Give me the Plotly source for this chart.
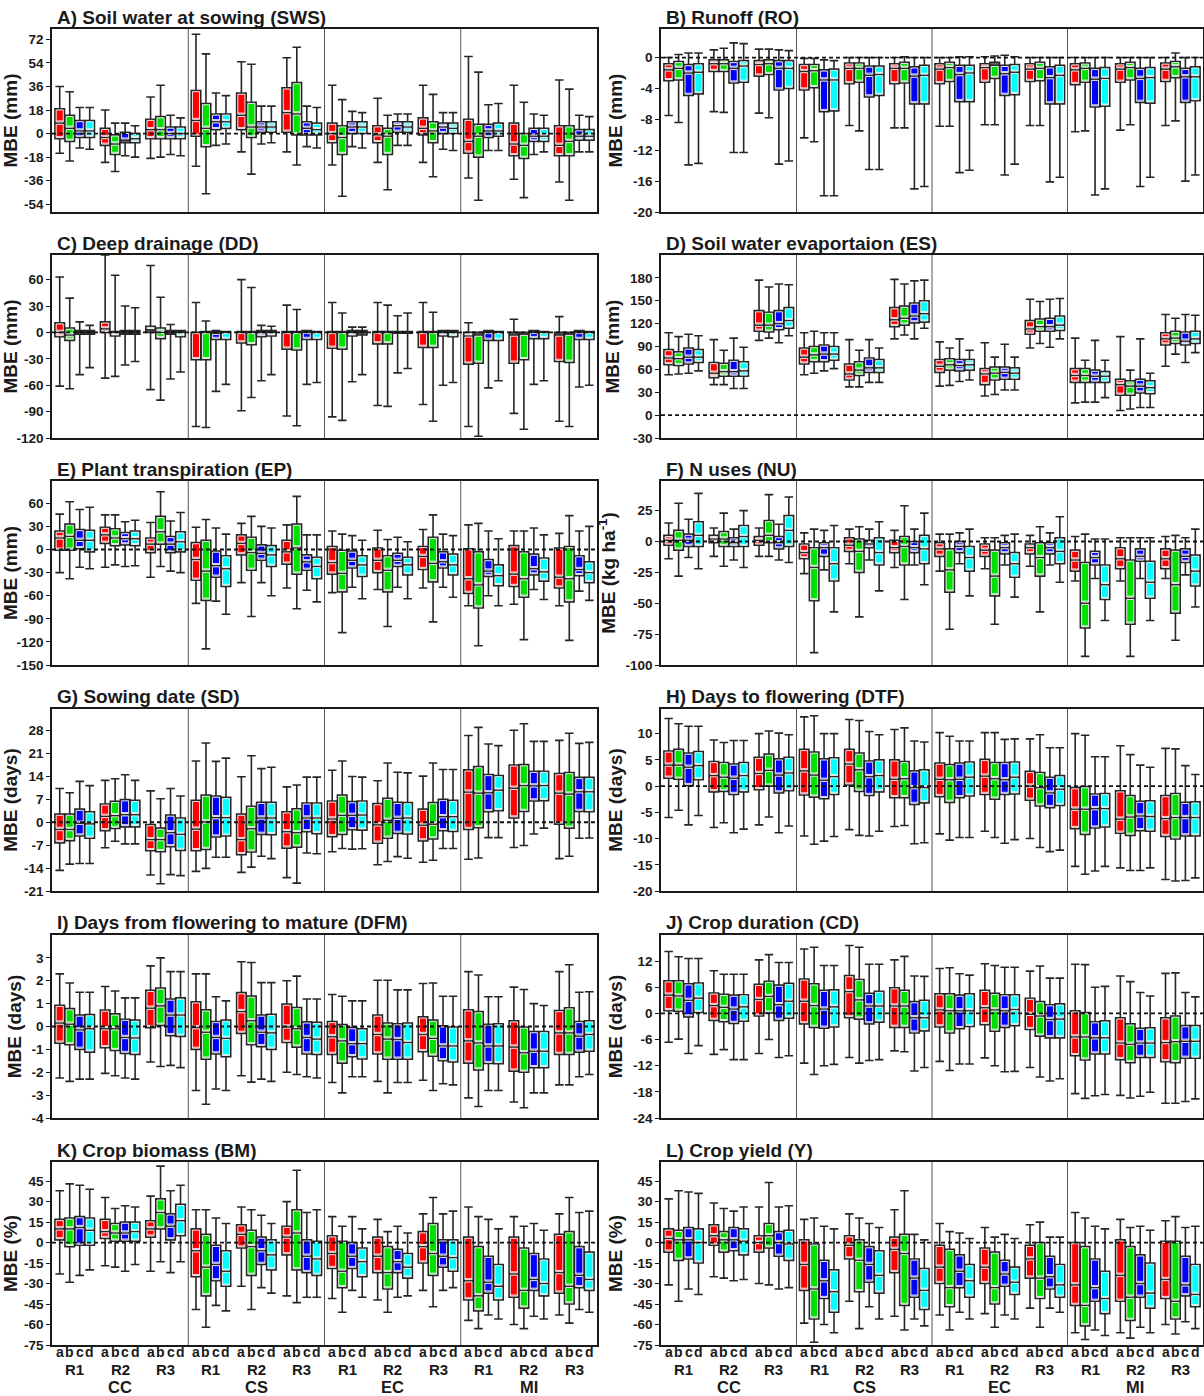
import plotly.graph_objects as go

# ---------------------------------------------------------------- categories
REGIONS = ["CC", "CS", "EC", "MI"]
REPLICATES = ["R1", "R2", "R3"]
VARIANTS = ["a", "b", "c", "d"]
VARIANT_COLORS = ["#ff0000", "#00e000", "#0000ff", "#00ffff"]

# ---------------------------------------------------------------- box statistics
# Each row: lower whisker, Q1, median, Q3, upper whisker.
# Row order: region (CC, CS, EC, MI) > replicate (R1, R2, R3) > variant (a, b, c, d).
SWS = [
    [-15, -4, 8, 19, 36], [-21, -6, 4, 14, 32], [-11, -3, 2, 10, 20], [-12, -3, 2, 10, 20],
    [-22, -9, -3, 4, 18], [-29, -16, -8, -1, 8], [-17, -7, -5, 1, 8], [-18, -7, -4, 0, 6],
    [-19, -4, 3, 11, 28], [-18, -4, 3, 13, 37], [-16, -4, 0, 5, 14], [-17, -4, 0, 5, 12],
    [-25, -2, 10, 33, 76], [-46, -10, 4, 23, 61], [-9, 3, 9, 15, 31], [-8, 4, 9, 15, 29],
    [-14, 3, 14, 31, 55], [-31, -3, 5, 24, 53], [-8, 1, 5, 9, 21], [-7, 1, 5, 9, 21],
    [-14, 1, 16, 35, 58], [-24, -1, 15, 39, 66], [-10, -1, 4, 9, 21], [-11, -1, 3, 8, 20],
    [-24, -7, 0, 8, 37], [-48, -16, -3, 6, 26], [-10, 0, 5, 9, 17], [-11, 0, 5, 9, 16],
    [-22, -7, -1, 6, 27], [-43, -16, -2, 4, 14], [-9, 1, 6, 9, 15], [-9, 1, 5, 9, 15],
    [-22, -1, 4, 12, 37], [-33, -7, 2, 9, 30], [-12, 0, 5, 8, 16], [-13, 0, 4, 8, 16],
    [-34, -15, -6, 11, 59], [-51, -18, -2, 7, 47], [-13, -3, 2, 7, 22], [-13, -2, 2, 8, 23],
    [-35, -17, -8, 8, 37], [-49, -19, -9, 0, 24], [-16, -6, -2, 4, 15], [-14, -6, -2, 4, 14],
    [-37, -17, -9, 6, 41], [-51, -17, -6, 6, 34], [-14, -5, -2, 3, 14], [-14, -5, -2, 3, 13],
]
RO = [
    [-7.5, -3.0, -1.6, -0.8, 0.0], [-8.4, -2.9, -1.4, -0.5, 0.4], [-13.9, -4.9, -2.0, -0.9, 0.6], [-13.7, -4.7, -1.9, -0.8, 0.6],
    [-7.0, -1.8, -0.8, -0.3, 1.0], [-7.1, -1.8, -0.8, -0.3, 1.2], [-12.3, -3.3, -1.4, -0.5, 1.9], [-12.3, -3.2, -1.1, -0.4, 1.8],
    [-7.2, -2.4, -0.9, -0.4, 1.1], [-7.8, -2.2, -0.8, -0.3, 1.1], [-13.8, -4.2, -1.4, -0.4, 1.0], [-13.4, -4.0, -1.4, -0.4, 0.9],
    [-10.4, -4.2, -1.8, -0.9, -0.1], [-10.9, -3.9, -1.7, -0.9, -0.1], [-17.9, -7.0, -2.9, -1.6, -0.3], [-17.9, -6.9, -2.9, -1.5, -0.4],
    [-8.8, -3.4, -1.4, -0.7, 0.0], [-9.5, -3.2, -1.4, -0.7, 0.0], [-14.5, -5.1, -2.3, -1.1, 0.0], [-14.5, -4.9, -2.2, -1.1, 0.0],
    [-9.1, -3.4, -1.4, -0.8, 0.0], [-9.1, -3.3, -1.4, -0.6, 0.1], [-17.0, -6.0, -2.4, -1.2, 0.0], [-16.7, -6.0, -2.3, -1.0, 0.0],
    [-8.9, -3.4, -1.5, -0.8, 0.0], [-8.9, -3.1, -1.3, -0.6, 0.0], [-14.9, -5.7, -2.2, -1.0, 0.1], [-14.6, -5.7, -2.0, -1.0, 0.1],
    [-8.7, -3.2, -1.3, -0.8, 0.1], [-8.7, -2.7, -1.0, -0.6, 0.2], [-15.2, -4.9, -2.1, -1.0, 0.3], [-13.8, -4.8, -1.9, -0.9, 0.1],
    [-8.8, -3.1, -1.5, -0.8, 0.0], [-8.8, -3.0, -1.4, -0.6, 0.0], [-16.1, -6.0, -2.6, -1.2, 0.0], [-15.5, -6.0, -2.3, -1.0, 0.0],
    [-9.6, -3.5, -1.6, -0.8, 0.0], [-9.5, -3.2, -1.4, -0.7, 0.0], [-17.8, -6.4, -2.8, -1.4, 0.0], [-17.0, -6.3, -2.7, -1.3, 0.0],
    [-9.4, -3.2, -1.5, -0.8, 0.0], [-8.7, -2.9, -1.3, -0.6, 0.0], [-16.7, -5.8, -2.7, -1.4, 0.0], [-15.5, -5.9, -2.6, -1.3, 0.0],
    [-8.8, -3.1, -1.5, -0.7, 0.0], [-8.2, -2.6, -1.2, -0.5, 0.6], [-16.0, -5.8, -2.5, -1.4, 0.0], [-15.2, -5.6, -2.5, -1.2, 0.0],
]
DD = [
    [-61, -5, 0, 11, 63], [-64, -9, -3, 5, 39], [-48, -2, 0, 2, 12], [-40, -2, 0, 2, 8],
    [-52, 0, 4, 12, 88], [-50, -4, 0, 1, 65], [-37, -2, 0, 2, 30], [-33, -2, 0, 2, 28],
    [-65, 0, 3, 7, 76], [-77, -7, 0, 5, 40], [-53, -2, 0, 2, 9], [-45, -5, 0, 2, 2],
    [-107, -31, 0, 0, 34], [-108, -31, 0, 1, 13], [-67, -8, -1, 1, 2], [-59, -8, 0, 1, 0],
    [-89, -12, 0, 1, 60], [-74, -14, 0, 1, 51], [-55, -5, 0, 2, 8], [-48, -4, 0, 2, 7],
    [-95, -19, 0, 1, 31], [-106, -20, 0, 1, 26], [-59, -8, 0, 2, 0], [-57, -8, 0, 1, 0],
    [-96, -18, 0, 1, 34], [-100, -19, 0, 1, 22], [-56, -4, 0, 2, 6], [-48, -3, 0, 2, 6],
    [-83, -13, 0, 1, 34], [-84, -13, 0, 1, 31], [-46, -1, 0, 1, 19], [-41, -1, 0, 1, 22],
    [-82, -17, 0, 1, 34], [-101, -17, 0, 1, 23], [-60, -4, 0, 2, 0], [-57, -5, 0, 2, 0],
    [-107, -36, -4, 0, 11], [-118, -35, -3, 0, 0], [-63, -9, 0, 2, 0], [-55, -9, 0, 1, 0],
    [-92, -35, -3, 0, 15], [-110, -31, -2, 0, 0], [-59, -7, 0, 2, 0], [-55, -7, 0, 1, 0],
    [-101, -33, -3, 0, 18], [-107, -34, -2, 0, 0], [-62, -8, 0, 2, 0], [-60, -8, 0, 1, 0],
]
ES = [
    [53, 66, 75, 86, 108], [54, 65, 74, 83, 103], [55, 67, 76, 88, 106], [58, 69, 76, 86, 104],
    [40, 49, 55, 69, 99], [40, 51, 57, 68, 85], [35, 51, 57, 72, 101], [35, 51, 58, 70, 89],
    [98, 110, 118, 137, 177], [101, 109, 118, 135, 168], [95, 112, 120, 137, 172], [104, 114, 124, 141, 171],
    [53, 67, 76, 88, 108], [55, 70, 79, 90, 110], [58, 70, 80, 92, 108], [61, 72, 80, 90, 108],
    [37, 46, 54, 67, 99], [37, 52, 59, 70, 85], [43, 56, 62, 75, 99], [43, 56, 62, 73, 88],
    [100, 116, 125, 141, 178], [105, 118, 127, 143, 172], [100, 121, 130, 147, 176], [114, 122, 133, 150, 177],
    [38, 56, 64, 73, 96], [39, 59, 66, 74, 88], [44, 58, 65, 73, 100], [46, 59, 66, 73, 85],
    [25, 40, 54, 61, 95], [27, 46, 55, 63, 76], [33, 47, 56, 63, 93], [33, 47, 55, 62, 76],
    [88, 106, 113, 124, 152], [94, 110, 116, 126, 149], [89, 110, 116, 127, 152], [100, 111, 118, 130, 153],
    [16, 43, 52, 61, 101], [17, 43, 52, 61, 72], [17, 43, 51, 59, 98], [23, 43, 51, 57, 72],
    [6, 26, 40, 47, 103], [8, 26, 38, 45, 59], [10, 29, 38, 47, 100], [10, 28, 36, 45, 55],
    [64, 92, 100, 108, 132], [80, 94, 101, 110, 127], [69, 92, 97, 109, 132], [82, 94, 100, 110, 131],
]
EP = [
    [-30, -1, 15, 24, 46], [-38, -1, 17, 33, 62], [-23, 1, 12, 26, 52], [-25, -3, 12, 25, 55],
    [-23, 8, 19, 29, 45], [-20, 5, 15, 27, 45], [-22, 6, 14, 22, 36], [-21, 5, 14, 24, 38],
    [-36, -4, 7, 15, 35], [-22, 7, 23, 43, 75], [-28, -4, 7, 17, 37], [-30, -3, 10, 23, 48],
    [-70, -40, -13, 9, 29], [-129, -66, -28, 12, 39], [-67, -36, -21, -2, 28], [-84, -48, -25, -8, 20],
    [-43, -7, 8, 19, 34], [-87, -27, -4, 16, 43], [-43, -14, -5, 6, 30], [-60, -22, -7, 5, 28],
    [-50, -19, -3, 12, 32], [-77, -32, 2, 33, 69], [-53, -27, -16, -7, 19], [-68, -38, -22, -10, 19],
    [-56, -32, -17, 4, 24], [-108, -55, -31, -1, 20], [-49, -24, -14, -2, 18], [-64, -35, -20, -8, 12],
    [-52, -30, -14, 2, 25], [-100, -55, -27, -8, 13], [-49, -22, -14, -5, 16], [-64, -33, -20, -10, 10],
    [-50, -26, -9, 4, 26], [-94, -42, -18, 16, 45], [-49, -24, -16, -3, 20], [-62, -33, -20, -6, 18],
    [-73, -57, -38, 1, 32], [-125, -76, -46, -3, 34], [-60, -35, -28, -13, 24], [-73, -47, -34, -20, 14],
    [-71, -48, -32, 5, 24], [-117, -62, -38, -3, 24], [-52, -33, -25, -6, 28], [-65, -41, -29, -11, 19],
    [-73, -50, -36, 2, 21], [-118, -68, -38, 4, 44], [-54, -34, -26, -8, 24], [-66, -43, -30, -16, 30],
]
NU = [
    [-14, -3, 1, 5, 15], [-28, -7, 1, 9, 31], [-13, -4, 1, 6, 18], [-22, -4, 5, 16, 39],
    [-12, -1, 2, 5, 11], [-20, -4, 2, 8, 23], [-15, -4, -1, 3, 10], [-21, -4, 4, 13, 25],
    [-12, -3, 1, 4, 11], [-12, -1, 5, 17, 38], [-15, -6, -1, 4, 14], [-17, -4, 9, 21, 36],
    [-26, -14, -9, -2, 7], [-90, -48, -21, -5, 10], [-23, -12, -5, -1, 9], [-57, -32, -18, -5, 13],
    [-18, -8, -3, 3, 10], [-61, -25, -8, 2, 12], [-15, -5, -2, 1, 10], [-40, -19, -9, 3, 16],
    [-21, -9, -5, 1, 9], [-47, -19, -4, 4, 29], [-19, -9, -5, 0, 10], [-35, -18, -6, 5, 23],
    [-24, -12, -6, -1, 6], [-71, -41, -23, -6, 6], [-18, -9, -4, 0, 7], [-44, -24, -13, -4, 10],
    [-22, -12, -7, -2, 3], [-67, -44, -28, -7, 3], [-19, -10, -5, -1, 5], [-45, -29, -18, -9, 6],
    [-20, -10, -5, -2, 5], [-57, -28, -13, -1, 12], [-19, -10, -5, -1, 7], [-33, -18, -8, 3, 20],
    [-32, -24, -15, -7, 4], [-93, -70, -50, -17, 6], [-30, -19, -13, -8, 2], [-64, -47, -35, -19, 2],
    [-32, -22, -14, -5, 3], [-93, -67, -46, -15, 3], [-30, -16, -12, -6, 3], [-64, -46, -33, -16, 3],
    [-30, -22, -14, -6, 4], [-80, -58, -35, -7, 5], [-27, -17, -12, -6, 3], [-53, -36, -24, -11, 10],
]
SD = [
    [-14.7, -6.3, -2.2, 2.5, 10.3], [-12.8, -5.6, -2.2, 2.5, 9.0], [-12.6, -4.2, -0.3, 4.0, 12.5], [-12.6, -4.9, -0.5, 3.2, 11.2],
    [-7.8, -2.6, 1.8, 5.6, 12.8], [-5.8, -1.9, 2.0, 6.4, 13.3], [-6.6, -1.4, 2.3, 6.9, 14.5], [-6.6, -1.4, 2.3, 6.7, 12.8],
    [-16.1, -8.7, -5.3, -0.7, 9.6], [-18.8, -9.0, -5.3, -1.8, 7.2], [-16.0, -7.5, -3.2, 2.2, 10.3], [-16.3, -8.6, -3.7, 1.3, 8.0],
    [-15.0, -8.7, -2.1, 6.7, 18.7], [-14.1, -8.3, 0.1, 8.3, 24.2], [-10.7, -4.5, 1.4, 8.0, 18.6], [-10.7, -4.2, 1.4, 7.6, 19.6],
    [-15.3, -9.9, -5.3, 2.5, 13.9], [-13.7, -9.1, -2.0, 4.9, 20.3], [-10.4, -3.7, 1.3, 6.1, 16.4], [-11.1, -3.8, 1.3, 6.1, 16.8],
    [-16.9, -7.9, -2.9, 3.2, 10.8], [-18.6, -7.6, -3.2, 4.1, 11.4], [-9.4, -2.9, 1.3, 5.9, 13.8], [-9.6, -3.5, 1.3, 5.9, 13.8],
    [-9.0, -4.4, 1.0, 6.5, 15.9], [-8.0, -3.7, 2.1, 8.3, 18.7], [-8.2, -2.3, 2.1, 6.3, 14.0], [-8.1, -2.4, 2.2, 6.5, 13.8],
    [-13.0, -6.4, -0.8, 5.7, 12.7], [-12.0, -4.9, 0.6, 7.3, 18.1], [-10.5, -3.4, 1.2, 6.1, 15.3], [-11.0, -3.6, 1.3, 6.0, 15.1],
    [-12.2, -5.7, -0.9, 4.0, 14.1], [-11.6, -5.1, -0.6, 6.0, 18.1], [-8.0, -2.6, 1.7, 7.0, 16.1], [-8.0, -2.8, 1.7, 6.7, 16.1],
    [-11.3, -2.2, 9.2, 16.0, 26.5], [-10.9, -1.7, 8.9, 17.0, 29.0], [-4.7, 3.2, 9.0, 14.6, 23.9], [-4.7, 3.5, 9.8, 14.3, 23.4],
    [-7.7, 1.3, 10.4, 17.5, 28.1], [-7.1, 3.3, 11.2, 17.6, 30.1], [-3.6, 6.5, 11.1, 15.6, 24.7], [-1.8, 6.6, 11.2, 15.6, 24.7],
    [-11.1, -0.6, 8.9, 14.9, 25.0], [-10.4, -1.8, 8.6, 15.2, 27.2], [-4.9, 3.3, 9.3, 13.7, 24.1], [-4.8, 3.2, 9.3, 13.7, 24.4],
]
DTF = [
    [-6.0, 1.5, 4.0, 6.7, 12.9], [-4.6, 1.3, 4.0, 7.0, 11.9], [-7.4, 0.1, 3.6, 6.3, 11.4], [-5.6, 1.2, 3.9, 6.6, 11.4],
    [-7.9, -1.1, 2.0, 4.7, 8.8], [-7.0, -1.0, 1.7, 4.5, 8.3], [-8.9, -1.6, 1.5, 4.2, 8.7], [-8.2, -1.1, 2.0, 4.5, 8.7],
    [-7.4, -0.7, 2.4, 5.5, 10.0], [-5.9, 0.0, 3.0, 6.1, 10.5], [-8.9, -1.3, 2.1, 5.2, 10.1], [-7.6, -0.9, 2.5, 5.5, 9.8],
    [-9.5, -1.7, 2.9, 7.0, 13.2], [-11.1, -2.1, 2.1, 6.5, 13.4], [-10.5, -2.4, 1.1, 5.2, 10.0], [-9.6, -1.6, 1.8, 5.4, 10.0],
    [-8.3, 0.2, 4.2, 7.0, 12.7], [-9.4, -1.0, 3.1, 6.3, 12.5], [-9.5, -1.8, 1.8, 4.8, 10.4], [-8.6, -1.1, 2.0, 5.0, 9.8],
    [-7.7, -2.2, 1.3, 5.0, 10.8], [-7.5, -2.2, 1.4, 4.7, 11.1], [-11.0, -3.5, -0.3, 2.9, 8.6], [-10.8, -3.2, -0.3, 3.1, 8.4],
    [-9.1, -2.0, 1.3, 4.4, 10.2], [-10.3, -3.1, 1.2, 4.1, 9.5], [-9.8, -2.2, 1.3, 4.4, 8.6], [-9.8, -1.9, 1.7, 4.6, 8.6],
    [-8.6, -1.6, 1.9, 5.1, 10.2], [-9.8, -2.5, 1.4, 4.5, 10.2], [-10.9, -1.6, 1.2, 4.5, 8.9], [-10.2, -1.5, 1.7, 4.6, 9.0],
    [-10.0, -2.7, 0.0, 2.8, 9.0], [-11.7, -3.8, -0.3, 2.6, 9.8], [-12.5, -4.1, -1.3, 1.7, 7.3], [-12.2, -3.7, -0.6, 2.0, 7.3],
    [-15.3, -8.1, -4.4, -0.3, 10.0], [-16.8, -9.2, -4.4, -0.1, 9.7], [-16.2, -8.0, -4.3, -1.5, 5.6], [-15.3, -7.8, -4.3, -1.4, 5.6],
    [-15.6, -9.0, -6.3, -0.9, 7.7], [-16.1, -9.4, -5.9, -1.8, 6.0], [-16.1, -8.5, -5.7, -2.9, 4.0], [-15.6, -8.6, -5.8, -2.8, 3.6],
    [-17.8, -9.6, -6.2, -1.8, 7.2], [-18.1, -10.1, -6.0, -1.4, 7.1], [-18.0, -9.5, -6.0, -3.1, 3.9], [-17.5, -9.5, -6.0, -3.0, 2.2],
]
DFM = [
    [-2.25, -0.73, 0.15, 0.93, 2.3], [-2.4, -0.8, 0.1, 0.78, 1.9], [-2.3, -1.0, -0.15, 0.5, 1.5], [-2.3, -1.12, -0.1, 0.52, 1.5],
    [-2.05, -0.93, -0.1, 0.72, 1.75], [-2.15, -1.05, -0.1, 0.55, 1.55], [-2.25, -1.18, -0.48, 0.32, 1.25], [-2.3, -1.22, -0.5, 0.28, 1.25],
    [-1.55, -0.05, 0.8, 1.58, 2.65], [-1.75, 0.05, 0.9, 1.68, 3.0], [-1.7, -0.4, 0.5, 1.2, 2.4], [-1.8, -0.43, 0.5, 1.25, 2.4],
    [-2.8, -1.0, -0.05, 1.08, 2.3], [-3.4, -1.43, -0.25, 0.73, 2.3], [-2.73, -1.2, -0.48, 0.22, 1.3], [-2.8, -1.32, -0.52, 0.28, 1.12],
    [-2.15, -0.3, 0.65, 1.48, 2.83], [-2.43, -0.8, 0.25, 1.33, 2.8], [-2.3, -0.88, -0.25, 0.5, 1.92], [-2.4, -1.0, -0.28, 0.53, 1.92],
    [-2.0, -0.7, -0.02, 0.98, 2.0], [-2.1, -0.9, -0.1, 0.83, 2.2], [-2.2, -1.2, -0.48, 0.2, 1.2], [-2.25, -1.22, -0.55, 0.18, 1.2],
    [-2.45, -1.22, -0.45, 0.22, 1.4], [-2.9, -1.6, -0.63, 0.08, 1.32], [-2.2, -1.32, -0.75, -0.05, 1.12], [-2.2, -1.42, -0.75, -0.1, 1.12],
    [-2.4, -1.2, -0.35, 0.5, 2.02], [-2.9, -1.43, -0.55, 0.15, 2.02], [-2.45, -1.43, -0.57, 0.12, 1.6], [-2.45, -1.43, -0.7, 0.15, 1.6],
    [-2.35, -1.1, -0.35, 0.42, 1.88], [-2.8, -1.3, -0.52, 0.28, 1.9], [-2.5, -1.5, -0.85, 0.03, 1.32], [-2.55, -1.55, -0.85, -0.02, 1.32],
    [-3.12, -1.6, -0.63, 0.73, 2.4], [-3.5, -1.9, -0.72, 0.65, 2.25], [-2.8, -1.62, -0.85, 0.1, 1.3], [-2.8, -1.63, -0.85, 0.12, 1.3],
    [-3.3, -1.95, -0.9, 0.25, 1.72], [-3.55, -2.0, -1.15, -0.02, 1.62], [-2.9, -1.8, -1.08, -0.22, 1.0], [-2.9, -1.8, -1.08, -0.22, 0.92],
    [-2.55, -1.22, -0.28, 0.7, 2.4], [-2.55, -1.22, -0.28, 0.82, 2.7], [-2.2, -1.12, -0.42, 0.22, 1.5], [-2.1, -1.08, -0.35, 0.25, 1.52],
]
CD = [
    [-6.6, 0.6, 4.2, 7.5, 14.2], [-5.9, 0.5, 4.0, 7.5, 13.0], [-9.2, -0.8, 3.0, 6.8, 12.6], [-7.4, 0.2, 3.5, 7.0, 12.6],
    [-9.4, -1.6, 1.8, 4.7, 9.8], [-8.3, -1.9, 1.4, 4.4, 9.0], [-10.6, -2.3, 1.0, 4.2, 9.0], [-10.6, -1.8, 1.5, 4.3, 9.0],
    [-9.2, -0.6, 3.2, 6.7, 12.3], [-6.0, 0.1, 3.9, 7.4, 13.5], [-10.1, -1.6, 2.0, 6.5, 11.7], [-9.7, -1.1, 2.8, 6.9, 11.7],
    [-11.4, -2.4, 2.8, 7.9, 14.8], [-14.0, -3.2, 1.8, 6.8, 15.2], [-12.0, -3.4, 1.0, 5.3, 11.0], [-11.7, -3.1, 1.5, 5.4, 11.0],
    [-10.1, -1.0, 5.0, 8.7, 15.6], [-11.4, -1.3, 3.1, 7.8, 15.2], [-10.8, -2.4, 1.7, 4.6, 11.3], [-10.6, -2.0, 1.7, 5.1, 11.3],
    [-8.6, -3.2, 1.7, 5.9, 12.3], [-8.8, -3.2, 1.7, 5.3, 13.1], [-13.2, -4.5, -1.0, 2.7, 8.6], [-12.4, -4.0, -1.0, 3.0, 8.5],
    [-11.0, -3.1, 0.8, 4.5, 10.3], [-13.1, -4.5, 0.6, 4.5, 10.5], [-11.6, -3.5, 0.6, 4.2, 9.1], [-11.6, -3.0, 0.6, 4.5, 8.8],
    [-10.2, -2.6, 1.3, 5.3, 11.4], [-12.0, -4.1, 0.8, 4.6, 11.0], [-13.4, -3.2, 0.6, 4.3, 10.6], [-13.3, -2.8, 0.9, 4.3, 10.6],
    [-12.4, -3.7, -0.2, 3.5, 9.7], [-14.6, -5.2, -0.6, 2.7, 10.9], [-15.5, -5.6, -1.4, 2.0, 8.1], [-15.0, -5.6, -1.3, 2.2, 8.1],
    [-18.4, -9.7, -5.4, 0.6, 11.3], [-19.5, -10.7, -5.4, 0.2, 11.2], [-18.9, -9.3, -5.6, -1.9, 6.0], [-18.6, -9.3, -5.6, -1.7, 6.2],
    [-18.8, -10.6, -6.8, -1.0, 8.6], [-19.4, -11.3, -7.1, -2.4, 7.3], [-19.0, -10.1, -6.8, -3.4, 4.8], [-18.1, -10.1, -6.8, -3.3, 4.0],
    [-20.6, -11.1, -6.7, -1.0, 9.2], [-20.6, -11.3, -6.5, -0.6, 9.3], [-20.2, -10.3, -6.4, -2.8, 4.8], [-19.6, -10.3, -6.4, -2.8, 3.8],
]
BM = [
    [-23, 2, 10, 17, 38], [-29, -3, 10, 18, 43], [-24, -2, 11, 19, 42], [-20, -2, 9, 18, 39],
    [-17, 3, 8, 17, 33], [-18, 1, 7, 14, 25], [-21, 1, 7, 15, 27], [-16, 1, 8, 15, 26],
    [-21, 4, 10, 16, 34], [-14, 10, 22, 32, 56], [-22, 2, 12, 21, 38], [-14, 5, 16, 28, 42],
    [-49, -25, -6, 10, 24], [-62, -39, -18, 6, 24], [-46, -28, -16, -2, 18], [-50, -32, -21, -6, 14],
    [-32, -4, 6, 13, 26], [-49, -24, -3, 9, 24], [-33, -16, -6, 4, 20], [-37, -20, -9, 2, 14],
    [-39, -9, 4, 12, 30], [-44, -20, 7, 24, 53], [-40, -22, -10, 2, 22], [-40, -24, -12, 1, 24],
    [-41, -19, -8, 5, 19], [-51, -33, -21, 1, 12], [-35, -19, -10, 0, 19], [-40, -25, -14, -4, 10],
    [-42, -22, -10, 4, 17], [-51, -34, -22, -3, 8], [-40, -22, -14, -5, 12], [-39, -26, -18, -8, 7],
    [-35, -15, -3, 8, 21], [-47, -24, -8, 14, 33], [-35, -18, -10, 2, 21], [-33, -21, -11, 2, 23],
    [-57, -42, -28, 4, 26], [-63, -50, -39, -3, 19], [-53, -37, -29, -10, 17], [-56, -42, -32, -16, 10],
    [-60, -40, -23, 4, 19], [-63, -48, -35, -4, 12], [-54, -35, -27, -8, 14], [-56, -39, -30, -12, 9],
    [-53, -37, -22, 6, 21], [-59, -45, -32, 8, 33], [-49, -33, -24, -3, 22], [-51, -35, -27, -7, 23],
]
Y = [
    [-31, -7, 3, 10, 32], [-43, -13, 2, 9, 38], [-34, -12, 2, 11, 37], [-38, -15, 0, 10, 36],
    [-25, -2, 5, 13, 29], [-26, -7, 2, 8, 25], [-28, -6, 2, 11, 23], [-27, -9, 1, 10, 26],
    [-30, -7, 0, 5, 26], [-31, -4, 5, 14, 44], [-34, -10, 0, 8, 26], [-33, -13, -1, 9, 27],
    [-59, -35, -16, 2, 17], [-73, -56, -34, -1, 18], [-60, -41, -28, -13, 12], [-66, -51, -36, -20, 10],
    [-43, -12, -2, 5, 21], [-63, -36, -13, 2, 18], [-47, -29, -16, -3, 14], [-56, -37, -24, -6, 11],
    [-54, -22, -5, 4, 24], [-64, -46, -8, 6, 38], [-56, -40, -26, -12, 6], [-61, -49, -35, -19, 2],
    [-53, -30, -18, -2, 14], [-64, -47, -33, -5, 8], [-51, -33, -21, -9, 7], [-56, -40, -28, -16, 3],
    [-52, -30, -18, -4, 11], [-62, -45, -33, -7, 4], [-53, -32, -23, -13, 6], [-56, -38, -29, -18, 3],
    [-48, -26, -12, -2, 13], [-62, -41, -26, 0, 15], [-48, -34, -25, -10, 4], [-51, -40, -31, -16, 4],
    [-66, -46, -31, 0, 22], [-71, -61, -46, -3, 18], [-64, -43, -33, -12, 12], [-68, -52, -41, -21, 10],
    [-66, -43, -24, 2, 17], [-70, -57, -40, -3, 11], [-62, -40, -30, -9, 12], [-66, -48, -37, -15, 9],
    [-60, -41, -27, 1, 16], [-67, -56, -43, 1, 19], [-58, -39, -31, -10, 11], [-63, -47, -38, -16, 12],
]

# ---------------------------------------------------------------- y tick labels
SWS_TICKS = [72, 54, 36, 18, 0, -18, -36, -54]
RO_TICKS = [0, -4, -8, -12, -16, -20]
DD_TICKS = [60, 30, 0, -30, -60, -90, -120]
ES_TICKS = [180, 150, 120, 90, 60, 30, 0, -30]
EP_TICKS = [60, 30, 0, -30, -60, -90, -120, -150]
NU_TICKS = [25, 0, -25, -50, -75, -100]
SD_TICKS = [28, 21, 14, 7, 0, -7, -14, -21]
DTF_TICKS = [10, 5, 0, -5, -10, -15, -20]
DFM_TICKS = [3, 2, 1, 0, -1, -2, -3, -4]
CD_TICKS = [12, 6, 0, -6, -12, -18, -24]
PCT_TICKS = [45, 30, 15, 0, -15, -30, -45, -60, -75]

# panel: title, y-axis title, statistics, y range, y ticks
PANELS = [
    ("A) Soil water at sowing (SWS)", "MBE (mm)", SWS, (-60, 80), SWS_TICKS),
    ("B) Runoff (RO)", "MBE (mm)", RO, (-20, 3.7), RO_TICKS),
    ("C) Deep drainage (DD)", "MBE (mm)", DD, (-120, 88), DD_TICKS),
    ("D) Soil water evaportaion (ES)", "MBE (mm)", ES, (-30, 210), ES_TICKS),
    ("E) Plant transpiration (EP)", "MBE (mm)", EP, (-150, 89), EP_TICKS),
    ("F) N uses (NU)", "MBE (kg ha<sup>-1</sup>)", NU, (-100, 49), NU_TICKS),
    ("G) Sowing date (SD)", "MBE (days)", SD, (-21, 34.6), SD_TICKS),
    ("H) Days to flowering (DTF)", "MBE (days)", DTF, (-20, 14.7), DTF_TICKS),
    ("I) Days from flowering to mature (DFM)", "MBE (days)", DFM, (-4, 4), DFM_TICKS),
    ("J) Crop duration (CD)", "MBE (days)", CD, (-24, 18), CD_TICKS),
    ("K) Crop biomass (BM)", "MBE (%)", BM, (-75, 59), PCT_TICKS),
    ("L) Crop yield (Y)", "MBE (%)", Y, (-75, 59), PCT_TICKS),
]

# ---------------------------------------------------------------- geometry (px)
W, H = 1204, 1396
COL_X = [(52, 597), (661, 1203)]
ROW_Y = [(29, 212), (255, 438), (481, 665), (709, 891), (935, 1118), (1162, 1345)]
PITCH = 0.22      # spacing of the a-d boxes inside a replicate group
BOX_W = 0.21      # outer box width (x units)
INNER_W = 0.155   # coloured core width (x units)
GAP_PX = 1.2      # grey rim thickness around the coloured core
LETTER_Y, REP_Y, REGION_Y = 1352, 1369, 1386.5   # bottom label rows (px)

FONT = "Liberation Sans, Arial, Helvetica, sans-serif"
INK = "#1a1a1a"

positions = []
for r in range(len(REGIONS)):
    for k in range(len(REPLICATES)):
        for v in range(len(VARIANTS)):
            positions.append(r * 3 + k + 0.5 + (v - 1.5) * PITCH)


def bold(size):
    return dict(size=size, family=FONT, weight="bold", color=INK)


def label(text, xref, x, y_px, size):
    return dict(text=text, xref=xref, yref="paper", x=x, y=1 - y_px / H,
                xanchor="center", yanchor="middle", showarrow=False,
                borderpad=0, font=bold(size))


fig = go.Figure()
layout = dict(
    width=W, height=H, margin=dict(l=0, r=0, t=0, b=0),
    paper_bgcolor="white", plot_bgcolor="white",
    boxmode="overlay", showlegend=False,
    font=dict(family=FONT, color=INK),
)
shapes, annotations = [], []

for i, (title, ytitle, stats, yrange, yticks) in enumerate(PANELS):
    row, col = divmod(i, 2)
    x0, x1 = COL_X[col]
    top, bot = ROW_Y[row]
    n = "" if i == 0 else str(i + 1)
    xa, ya = "x" + n, "y" + n
    bottom_row = row == len(ROW_Y) - 1

    gap = GAP_PX * (yrange[1] - yrange[0]) / (bot - top)

    for v, color in enumerate(VARIANT_COLORS):
        idx = [j for j in range(len(stats)) if j % 4 == v]
        xs = [positions[j] for j in idx]
        rows = [stats[j] for j in idx]
        # grey outer box with whiskers
        fig.add_trace(go.Box(
            x=xs, orientation="v",
            lowerfence=[s[0] for s in rows], q1=[s[1] for s in rows],
            median=[s[2] for s in rows], q3=[s[3] for s in rows],
            upperfence=[s[4] for s in rows],
            width=BOX_W, whiskerwidth=0.9, boxpoints=False,
            fillcolor="#6a6a6a", line=dict(color="#262626", width=1.6),
            hoverinfo="skip", xaxis=xa, yaxis=ya,
        ))
        # coloured cores: below and above the median
        for half in (0, 1):
            hx, lo_l, hi_l = [], [], []
            for xv, s in zip(xs, rows):
                lo = (s[1] if half == 0 else s[2]) + gap
                hi = (s[2] if half == 0 else s[3]) - gap
                if hi - lo > gap * 0.6:
                    hx.append(xv)
                    lo_l.append(lo)
                    hi_l.append(hi)
            if not hx:
                continue
            fig.add_trace(go.Box(
                x=hx, orientation="v",
                lowerfence=lo_l, q1=lo_l, median=lo_l, q3=hi_l, upperfence=hi_l,
                width=INNER_W, whiskerwidth=0, boxpoints=False,
                fillcolor=color, line=dict(color="#f4f4f4", width=0.9),
                hoverinfo="skip", xaxis=xa, yaxis=ya,
            ))

    layout["xaxis" + n] = dict(
        domain=[x0 / W, x1 / W], anchor=ya, range=[0, 12],
        showgrid=False, zeroline=False, showline=True, mirror=True,
        linecolor=INK, linewidth=1.6, ticks="", showticklabels=False,
        automargin=False, fixedrange=True,
    )
    layout["yaxis" + n] = dict(
        domain=[1 - bot / H, 1 - top / H], anchor=xa, range=list(yrange),
        showgrid=False, zeroline=False, showline=True, mirror=True,
        linecolor=INK, linewidth=1.6, ticks="outside", ticklen=4,
        tickwidth=1.4, tickcolor=INK, automargin=False,
        tickmode="array", tickvals=yticks, ticktext=[str(t) for t in yticks],
        tickfont=bold(13.5),
        title=dict(text=ytitle, standoff=5, font=bold(19)),
    )

    # region separators
    for b in (3, 6, 9):
        shapes.append(dict(type="line", xref=xa, yref=ya + " domain",
                           x0=b, x1=b, y0=0, y1=1, layer="below",
                           line=dict(color="#555555", width=1)))
    # zero reference
    shapes.append(dict(type="line", xref=xa + " domain", yref=ya,
                       x0=0, x1=1, y0=0, y1=0, layer="above",
                       line=dict(color="#111111", width=1.8, dash="4px,3px")))
    # panel title
    annotations.append(dict(
        text=title, xref="paper", yref="paper",
        x=(x0 + 3) / W, y=1 - (top - 12) / H, xanchor="left", yanchor="middle",
        showarrow=False, font=bold(19),
    ))
    # category labels under the bottom row: variant letters, replicate, region
    if bottom_row:
        for j, xv in enumerate(positions):
            annotations.append(label(VARIANTS[j % 4], xa, xv, LETTER_Y, 14))
        for r, region in enumerate(REGIONS):
            for k, rep in enumerate(REPLICATES):
                annotations.append(label(rep, xa, r * 3 + k + 0.5, REP_Y, 15))
            annotations.append(label(region, xa, r * 3 + 1.5, REGION_Y, 16.5))

layout["shapes"] = shapes
layout["annotations"] = annotations
fig.update_layout(**layout)
fig.write_html("out.html")
